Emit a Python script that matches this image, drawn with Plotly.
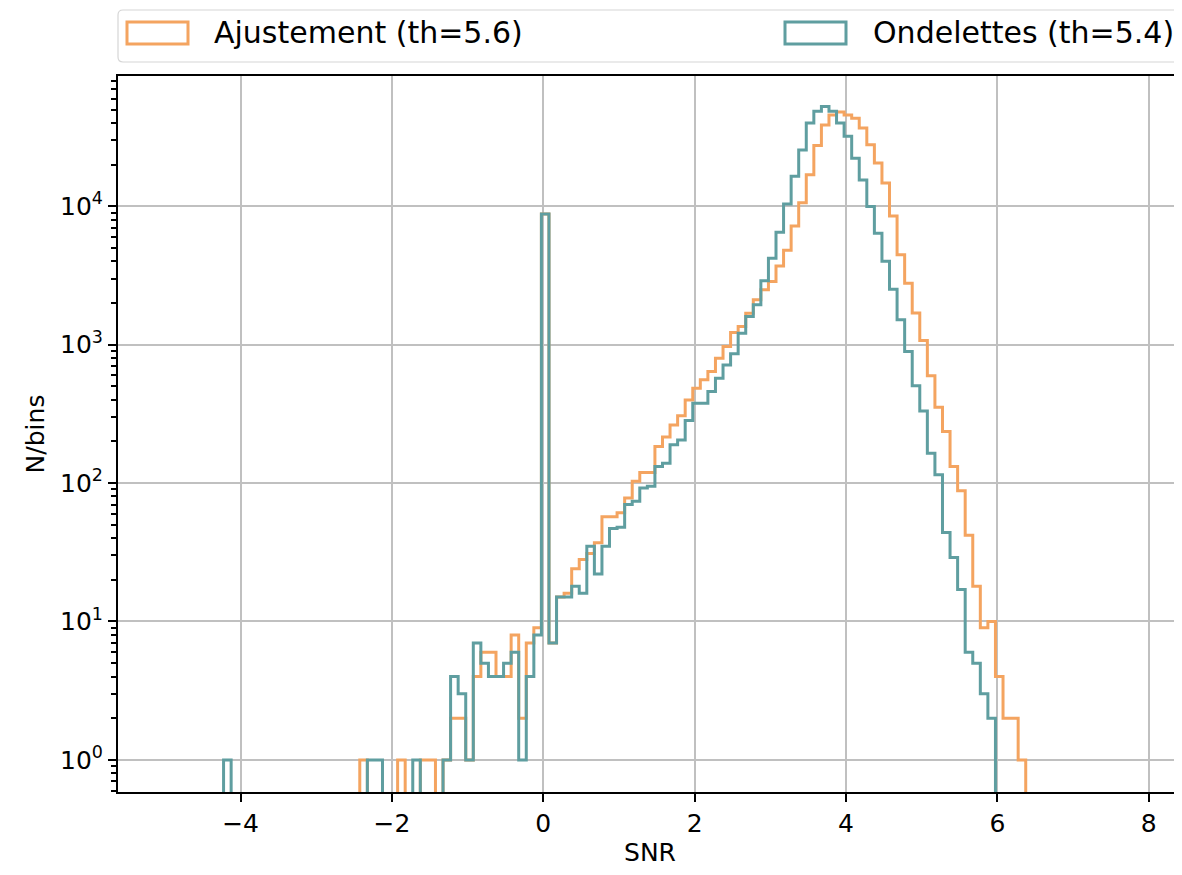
import numpy as np
import plotly.graph_objects as go

# histogram bins: 0.1 wide, first edge at -4.225
bin_start = -4.225
bin_width = 0.1

# counts per bin, "Ondelettes (th=5.4)"
ondelettes = [1, 0, 0, 0, 0, 0, 0, 0, 0, 0,
              0, 0, 0, 0, 0, 0, 0, 0, 0, 1,
              1, 0, 0, 0, 0, 1, 0, 0, 0, 1,
              4, 3, 1, 7, 5, 4, 4, 5, 6, 1,
              4, 8, 8800, 7, 15, 15, 18, 16, 35, 22,
              35, 47, 48, 70, 74, 92, 95, 132, 139, 189,
              205, 283, 378, 378, 458, 573, 714, 858, 1211, 1596,
              1940, 2900, 4217, 6500, 10400, 16500, 25500, 40000, 48500, 52500,
              48500, 40000, 32000, 22250, 15500, 9960, 6390, 4000, 2518, 1511,
              892, 504, 332, 164, 115, 44, 29, 17, 6, 5,
              3, 2]

# counts per bin, "Ajustement (th=5.6)"
ajustement = [0, 0, 0, 0, 0, 0, 0, 0, 0, 0,
              0, 0, 0, 0, 0, 0, 0, 0, 1, 0,
              0, 0, 0, 1, 0, 0, 1, 1, 0, 1,
              2, 2, 1, 4, 6, 6, 4, 4, 8, 2,
              7, 9, 8800, 7, 15, 16, 24, 28, 31, 37,
              57, 57, 61, 78, 103, 119, 119, 184, 215, 263,
              306, 399, 485, 557, 640, 799, 970, 1224, 1352, 1688,
              2107, 2489, 2858, 3700, 4800, 7200, 10600, 16900, 27500, 38700,
              45700, 48000, 45700, 43300, 36700, 27800, 20500, 14700, 8500, 4460,
              2780, 1690, 1070, 595, 353, 236, 132, 88, 42, 18,
              9, 10, 4, 2, 2, 1]

labels = ["Ajustement (th=5.6)", "Ondelettes (th=5.4)"]
colors = ["#F4A460", "#5F9EA0"]


def step_outline(counts, floor=1e-2):
    # outline like matplotlib histtype="step"
    c = np.array(counts, dtype=float)
    edges = bin_start + bin_width * np.arange(len(c) + 1)
    x = np.repeat(edges, 2)
    y = np.concatenate([[0.0], np.repeat(c, 2), [0.0]])
    y[y <= 0] = floor
    return x, y


fig = go.Figure()
for counts, name, col in zip([ajustement, ondelettes], labels, colors):
    x, y = step_outline(counts)
    fig.add_trace(go.Scatter(x=x, y=y, mode="lines", name=name,
                             line=dict(color=col, width=3)))

# legend drawn by hand (outlined patches, expanded over the axes width)
W, H = 1064, 716


def px(xp):
    return (xp - 118) / W


def py(yp):
    return (792 - yp) / H


r = 5
x0, x1, y0, y1 = px(118), px(1195), py(10), py(62)
rx, ry = r / W, r / H
frame = (f"M{x0 + rx},{y0} L{x1 - rx},{y0} Q{x1},{y0} {x1},{y0 - ry} "
         f"L{x1},{y1 + ry} Q{x1},{y1} {x1 - rx},{y1} L{x0 + rx},{y1} "
         f"Q{x0},{y1} {x0},{y1 + ry} L{x0},{y0 - ry} Q{x0},{y0} {x0 + rx},{y0} Z")
shapes = [dict(type="path", path=frame, xref="paper", yref="paper",
               line=dict(color="#d6d6d6", width=1.2), fillcolor="white")]
annotations = []
for (lx, tx), name, col in zip([(127, 212), (785, 871)], labels, colors):
    shapes.append(dict(type="rect", xref="paper", yref="paper",
                       x0=px(lx), x1=px(lx + 61), y0=py(44), y1=py(22),
                       line=dict(color=col, width=3), fillcolor="white"))
    annotations.append(dict(text=name, x=px(tx), y=py(33), xref="paper", yref="paper",
                            xanchor="left", yanchor="middle", showarrow=False,
                            font=dict(size=30, color="black")))

minor_vals = [m * 10 ** d for d in range(-1, 5) for m in range(2, 10)]

# the page has an 8px body margin, so the figure is shifted by that much
fig.update_layout(
    width=1174, height=859,
    margin=dict(l=110, r=0, t=68, b=75),
    paper_bgcolor="white", plot_bgcolor="white",
    font=dict(family="DejaVu Sans", color="black"),
    showlegend=False,
    shapes=shapes, annotations=annotations,
    xaxis=dict(range=[-5.62, 8.44], tickvals=[-4, -2, 0, 2, 4, 6, 8],
               ticktext=["\u22124", "\u22122", "0", "2", "4", "6", "8"],
               ticks="outside", ticklen=8, tickwidth=2, tickcolor="black",
               showline=True, linecolor="black", linewidth=2, mirror=True,
               showgrid=True, gridcolor="#c0c0c0", gridwidth=2, zeroline=False,
               tickfont=dict(size=25),
               title=dict(text="SNR", font=dict(size=25), standoff=10)),
    yaxis=dict(type="log", range=[-0.232, 4.941],
               tickvals=[1, 10, 100, 1000, 10000],
               ticktext=["10<sup>0</sup>", "10<sup>1</sup>", "10<sup>2</sup>",
                         "10<sup>3</sup>", "10<sup>4</sup>"],
               ticks="outside", ticklen=8, tickwidth=2, tickcolor="black",
               minor=dict(tickvals=minor_vals, ticks="outside", ticklen=5,
                          tickwidth=1.5, tickcolor="black", showgrid=False),
               showline=True, linecolor="black", linewidth=2, mirror=False,
               showgrid=True, gridcolor="#c0c0c0", gridwidth=2, zeroline=False,
               tickfont=dict(size=25),
               title=dict(text="N/bins", font=dict(size=25), standoff=8)),
)

fig.write_html("out.html")
